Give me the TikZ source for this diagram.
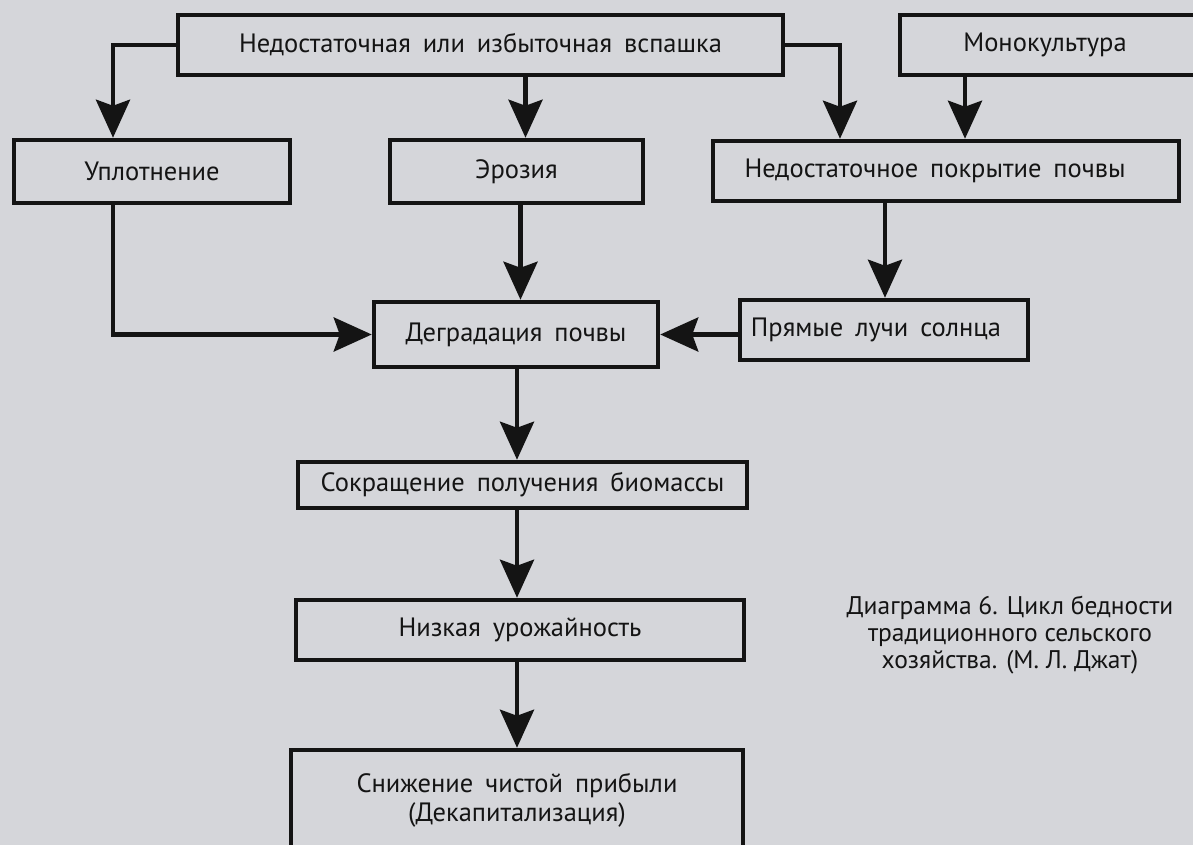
\documentclass[tikz,border=0pt]{standalone}
\usepackage{fontspec}
\setmainfont{PT Sans}
\usetikzlibrary{arrows.meta,calc}
\definecolor{bg}{HTML}{D5D6DA}
\definecolor{ink}{HTML}{141414}
\newcommand\ws{\hspace{0.45em}}
\tikzset{
  x=1pt,y=-1pt,
  box/.style={draw=ink, line width=4.5pt, fill=bg, inner sep=0pt, text=ink,
    font=\fontsize{26.5}{30}\selectfont, align=center},
  flow/.style={draw=ink, line width=4.5pt,
    -{Stealth[length=38pt,width=34pt,inset=6pt]}},
}
\begin{document}
\begin{tikzpicture}
\fill[bg] (0,0) rectangle (1193,845);
\useasboundingbox (0,0) rectangle (1193,845);
\node[box, minimum width=605pt, minimum height=60pt] (plow) at (480.5,45) {Недостаточная\ws или\ws избыточная\ws вспашка};
\node[box, minimum width=330pt, minimum height=60pt, text width=290pt] (mono) at (1065,45) {\hspace*{-40pt}Монокультура};
\node[box, minimum width=276pt, minimum height=63pt] (upl) at (152,171.5) {Уплотнение};
\node[box, minimum width=253pt, minimum height=63pt] (eroz) at (516.5,171.5) {Эрозия};
\node[box, minimum width=466pt, minimum height=60pt] (cover) at (946,171) {\hspace*{-22pt}Недостаточное\ws покрытие\ws почвы};
\node[box, minimum width=284pt, minimum height=65pt] (degr) at (516,334.5) {Деградация\ws почвы};
\node[box, minimum width=288pt, minimum height=60pt] (sun) at (884,330) {\hspace*{-16pt}Прямые\ws лучи\ws солнца};
\node[box, minimum width=449pt, minimum height=46pt] (bio) at (522.5,485) {Сокращение\ws получения\ws биомассы};
\node[box, minimum width=448pt, minimum height=60pt] (yield) at (520,630) {Низкая\ws урожайность};
\node[box, minimum width=452pt, minimum height=100pt, font=\fontsize{26.5}{29}\selectfont] (income) at (517,800) {Снижение\ws чистой\ws прибыли\\(Декапитализация)};
\node[text=ink, align=center, font=\fontsize{25.5}{27}\selectfont] (cap) at (1010,635) {Диаграмма 6. Цикл бедности\\традиционного сельского\\хозяйства. (М. Л. Джат)};
\draw[flow] (plow.west) -| ([xshift=-39pt]upl.north);
\draw[flow] ([xshift=45pt]plow.south) -- ([xshift=45pt]plow.south |- eroz.north);
\draw[flow] (plow.east) -| ([xshift=-106pt]cover.north);
\draw[flow] ([xshift=-100pt]mono.south) -- ([xshift=-100pt]mono.south |- cover.north);
\draw[flow] ([xshift=-39pt]upl.south) |- (degr.west);
\draw[flow] ([xshift=4pt]eroz.south) -- ([xshift=4pt]eroz.south |- degr.north);
\draw[flow] ([xshift=-61pt]cover.south) -- ([xshift=-61pt]cover.south |- sun.north);
\draw[flow] (sun.west |- degr.center) -- (degr.east);
\draw[flow] ([xshift=1pt]degr.south) -- ([xshift=1pt]degr.south |- bio.north);
\draw[flow] ([xshift=-5.5pt]bio.south) -- ([xshift=-5.5pt]bio.south |- yield.north);
\draw[flow] ([xshift=-3pt]yield.south) -- ([xshift=-3pt]yield.south |- income.north);
\end{tikzpicture}
\end{document}
